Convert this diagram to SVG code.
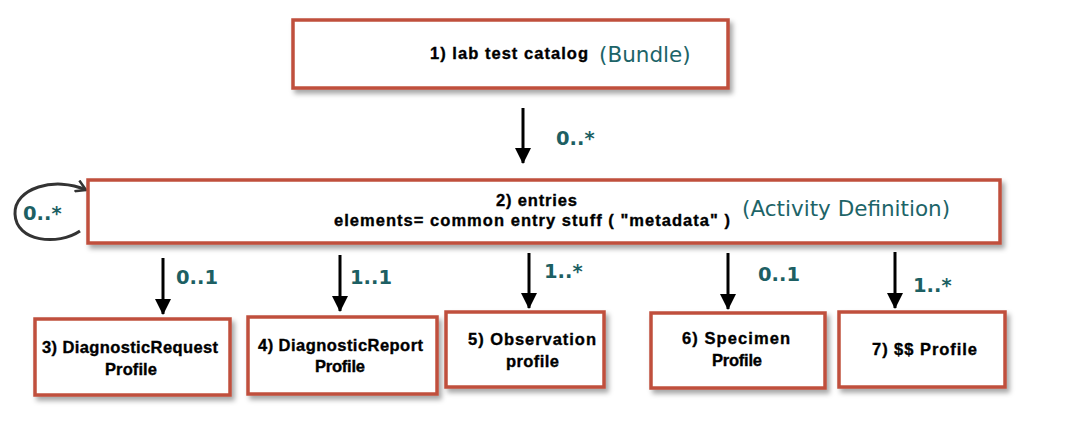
<svg xmlns="http://www.w3.org/2000/svg" width="1077" height="432" viewBox="0 0 1077 432">
<defs>
<filter id="sh" x="-10%" y="-20%" width="130%" height="150%">
<feDropShadow dx="3" dy="4" stdDeviation="2.5" flood-color="#000" flood-opacity="0.35"/>
</filter>
<marker id="ah" markerWidth="16" markerHeight="16" viewBox="0 0 16 16" refX="15" refY="8" orient="auto" markerUnits="userSpaceOnUse">
<path d="M0,0 L16,8 L0,16 Z" fill="#000"/>
</marker>
<marker id="lh" markerWidth="14" markerHeight="14" viewBox="0 0 14 14" refX="12" refY="7" orient="auto" markerUnits="userSpaceOnUse">
<path d="M2,1 L12,7 L2,13" fill="none" stroke="#333" stroke-width="2.5"/>
</marker>
</defs>
<style>
.box{fill:#fff;stroke:#c0503c;stroke-width:3.5;filter:url(#sh)}
.t{font-family:"Liberation Sans",Arial,sans-serif;font-weight:bold;font-size:16.5px;fill:#000;stroke:#000;stroke-width:0.35;text-anchor:middle}
.c{font-family:"DejaVu Sans",Verdana,sans-serif;font-weight:bold;font-size:19.5px;fill:#1d5f63}
.r{font-family:"DejaVu Sans",Verdana,sans-serif;font-size:21.5px;fill:#1d6468}
.ar{stroke:#000;stroke-width:3;fill:none;marker-end:url(#ah)}
</style>
<g id="connectors">
<line class="ar" x1="523" y1="108" x2="523" y2="163"/>
<line class="ar" x1="163" y1="258" x2="163" y2="314"/>
<line class="ar" x1="340" y1="255" x2="340" y2="311"/>
<line class="ar" x1="529" y1="253" x2="529" y2="308"/>
<line class="ar" x1="728" y1="253" x2="728" y2="309"/>
<line class="ar" x1="895" y1="252" x2="895" y2="308"/>
<path d="M80,231 C58,246 16,242 15,214 C14,188 55,176 86,190" fill="none" stroke="#333" stroke-width="3" marker-end="url(#lh)"/>
<text class="c" x="556" y="145">0..*</text>
<text class="c" x="23" y="220">0..*</text>
<text class="c" x="176" y="284">0..1</text>
<text class="c" x="350" y="284">1..1</text>
<text class="c" x="544" y="278">1..*</text>
<text class="c" x="758" y="281">0..1</text>
<text class="c" x="913" y="292">1..*</text>
</g>
<g id="n1">
<rect class="box" x="293" y="20" width="435" height="68"/>
<text class="t" x="509" y="59" textLength="158" lengthAdjust="spacing">1) lab test catalog</text>
<text class="r" x="599" y="62">(Bundle)</text>
</g>
<g id="n2">
<rect class="box" x="88" y="180" width="912" height="63"/>
<text class="t" x="536.5" y="206" textLength="81" lengthAdjust="spacing">2) entries</text>
<text class="t" x="532" y="226" textLength="396" lengthAdjust="spacing">elements= common entry stuff ( "metadata" )</text>
<text class="r" x="742" y="216">(Activity Definition)</text>
</g>
<g id="n3">
<rect class="box" x="35" y="319" width="195" height="76"/>
<text class="t" x="130" y="353" textLength="176" lengthAdjust="spacing">3) DiagnosticRequest</text>
<text class="t" x="131" y="375" textLength="52" lengthAdjust="spacing">Profile</text>
</g>
<g id="n4">
<rect class="box" x="248" y="317" width="189" height="77"/>
<text class="t" x="340.5" y="351" textLength="165" lengthAdjust="spacing">4) DiagnosticReport</text>
<text class="t" x="340" y="372" textLength="50" lengthAdjust="spacing">Profile</text>
</g>
<g id="n5">
<rect class="box" x="446" y="312" width="158" height="75"/>
<text class="t" x="532" y="345" textLength="128" lengthAdjust="spacing">5) Observation</text>
<text class="t" x="532.5" y="367" textLength="53" lengthAdjust="spacing">profile</text>
</g>
<g id="n6">
<rect class="box" x="651" y="313" width="174" height="75"/>
<text class="t" x="736" y="344" textLength="108" lengthAdjust="spacing">6) Specimen</text>
<text class="t" x="737" y="366" textLength="50" lengthAdjust="spacing">Profile</text>
</g>
<g id="n7">
<rect class="box" x="839" y="312" width="166" height="75"/>
<text class="t" x="924.5" y="355" textLength="105" lengthAdjust="spacing">7) $$ Profile</text>
</g>
</svg>
